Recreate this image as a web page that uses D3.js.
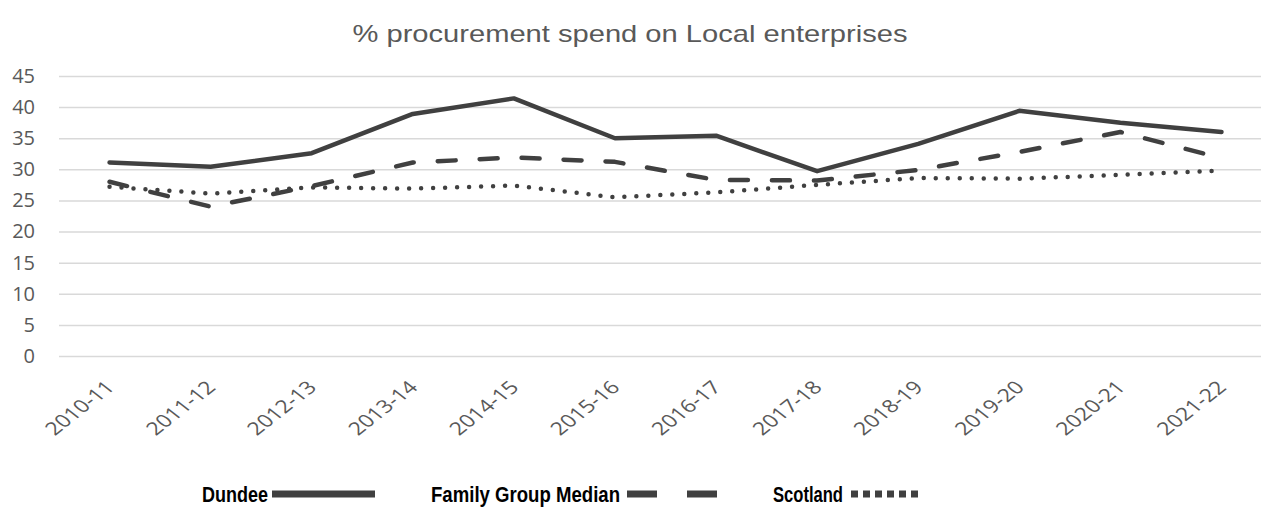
<!DOCTYPE html>
<html>
<head>
<meta charset="utf-8">
<script src="https://cdn.jsdelivr.net/npm/d3@7"></script>
<style>
  body { margin: 0; background: #fff; }
  svg { display: block; }
</style>
</head>
<body>
<div id="chart"></div>
<script>
// data
const years = ["2010-11","2011-12","2012-13","2013-14","2014-15","2015-16",
               "2016-17","2017-18","2018-19","2019-20","2020-21","2021-22"]
const dundee = [31.1, 30.4, 32.6, 38.9, 41.4, 35.0, 35.4, 29.7, 34.1, 39.4, 37.5, 36.0]
const familyMedian = [28.0, 24.0, 27.3, 31.1, 31.9, 31.2, 28.3, 28.2, 29.9, 32.8, 36.0, 31.8]
const scotland = [27.2, 26.1, 27.1, 26.9, 27.4, 25.5, 26.3, 27.5, 28.6, 28.5, 29.1, 29.8]
const yTicks = [0, 5, 10, 15, 20, 25, 30, 35, 40, 45]

const seriesNames = ["Dundee", "Family Group Median", "Scotland"]

const width = 1261, height = 530
const ink = "#404040"
const lineW = 4.5

const svg = d3.select("#chart").append("svg")
    .attr("width", width)
    .attr("height", height)

const x = d3.scalePoint()
    .domain(years)
    .range([59, 1272])
    .padding(0.5)

const y = d3.scaleLinear()
    .domain([0, 45])
    .range([356, 76])

// title (reference is a bit wide, so stretch it)
svg.append("text")
    .attr("x", 630)
    .attr("y", 42)
    .attr("text-anchor", "middle")
    .attr("textLength", 555)
    .attr("lengthAdjust", "spacingAndGlyphs")
    .style("font-family", "'Liberation Sans', Arial, sans-serif")
    .style("font-size", "24px")
    .style("fill", "#595959")
    .text("% procurement spend on Local enterprises")

// gridlines + y labels
const yAxis = d3.axisLeft(y)
    .tickValues(yTicks)
    .tickSize(-(1272 - 59))

const gy = svg.append("g")
    .attr("transform", "translate(59,0)")
    .call(yAxis)
gy.select(".domain").remove()
gy.selectAll(".tick line")
    .attr("stroke", "#d9d9d9")
    .attr("stroke-width", 1.5)
gy.selectAll(".tick text")
    .attr("x", 35 - 59)
    .attr("text-anchor", "end")
    .style("font-family", "'Open Sans', sans-serif")
    .style("font-size", "20px")
    .style("fill", "#595959")

// x labels, rotated and stretched like the reference
const xAxis = d3.axisBottom(x).tickSize(0).tickPadding(0)
const gx = svg.append("g")
    .attr("transform", "translate(0,356)")
    .call(xAxis)
gx.select(".domain").remove()
gx.selectAll(".tick text")
    .attr("text-anchor", "end")
    .attr("y", 0)
    .attr("dy", "0.35em")
    .attr("transform", "translate(0,28) scale(1.28,1) rotate(-45)")
    .style("font-family", "'Open Sans', sans-serif")
    .style("font-size", "18px")
    .style("fill", "#595959")

// lines
const line = d3.line()
    .x((d, i) => x(years[i]))
    .y(d => y(d))

const styles = [
    { dash: null, cap: "round" },
    { dash: "18,24", cap: "round" },
    { dash: "0,12", cap: "round" }
]

const allSeries = [dundee, familyMedian, scotland]

svg.append("g").selectAll("path")
    .data(allSeries)
    .enter().append("path")
    .attr("d", line)
    .attr("fill", "none")
    .attr("stroke", ink)
    .attr("stroke-width", lineW)
    .attr("stroke-linejoin", "round")
    .attr("stroke-linecap", (d, i) => styles[i].cap)
    .attr("stroke-dasharray", (d, i) => styles[i].dash)

// legend
const legendY = 494
const legend = svg.append("g")
    .style("font-family", "'Liberation Sans', Arial, sans-serif")
    .style("font-weight", "bold")
    .style("font-size", "22px")
    .style("fill", "#000")

const legendItems = [
    { name: seriesNames[0], tx: 202, tw: 66, lx: 272, lw: 103, dash: null },
    { name: seriesNames[1], tx: 431, tw: 189, lx: 627, lw: 91, dash: "30,30" },
    { name: seriesNames[2], tx: 773, tw: 70, lx: 851, lw: 68, dash: "7,5" }
]

legendItems.forEach(function (it) {
    legend.append("text")
        .attr("x", it.tx)
        .attr("y", legendY + 8)
        .attr("textLength", it.tw)
        .attr("lengthAdjust", "spacingAndGlyphs")
        .text(it.name)
    legend.append("line")
        .attr("x1", it.lx)
        .attr("x2", it.lx + it.lw)
        .attr("y1", legendY)
        .attr("y2", legendY)
        .attr("stroke", ink)
        .attr("stroke-width", 7)
        .attr("stroke-dasharray", it.dash)
})
</script>
</body>
</html>
